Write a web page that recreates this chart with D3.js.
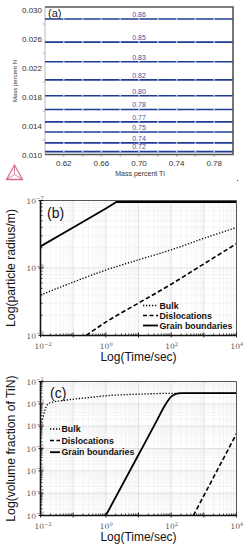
<!DOCTYPE html>
<html><head><meta charset="utf-8">
<script src="https://cdn.jsdelivr.net/npm/d3@7"></script>
<style>body{margin:0;background:#fff}svg{display:block}</style>
</head><body>
<svg id="c" width="249" height="550"></svg>
<script>
// ---------- Panel (a) data ----------
const isoLabels = ["0.86","0.85","0.83","0.82","0.80","0.78","0.77","0.75","0.74","0.72"];
const isoN = [0.0287,0.0255,0.0228,0.0203,0.0181,0.0162,0.0145,0.0131,0.0116,0.0104];
const isoTiRange = [0.60, 0.80];
const markerTi = [0.62,0.64,0.66,0.68,0.70,0.72,0.74,0.76,0.78];
const aXTicks = [0.62,0.66,0.70,0.74,0.78];
const aYTicks = [0.010,0.014,0.018,0.022,0.026,0.030];
const aYMinor = [0.012,0.016,0.020,0.024,0.028];

// ---------- Panel (b) data ----------
const bBulkT = [0.01,0.1,1,10,100,1000,10000];
const bBulkR = [3.98e-9,6.17e-9,9.33e-9,1.32e-8,1.86e-8,2.75e-8,3.98e-8];
const bDislT = [0.25,1,10,100,1000,10000];
const bDislR = [1.0e-9,1.58e-9,3.02e-9,5.75e-9,1.15e-8,2.29e-8];
const bGbT = [0.01,0.1,1,1.5,2.1,10000];
const bGbR = [2.09e-8,3.98e-8,7.6e-8,8.6e-8,9.5e-8,9.5e-8];
const bYTicks = [1e-9,1e-8,1e-7];
const bYExp = ["−9","−8","−7"];

// ---------- Panel (c) data ----------
const cBulkT = [0.01,0.0115,0.0135,0.016,0.02,0.05,0.3,1,10,100,10000];
const cBulkF = [1.1e-4,2.0e-4,5.0e-4,8.9e-4,1.12e-3,1.41e-3,1.9e-3,2.3e-3,2.7e-3,2.95e-3,3.0e-3];
const cDislT = [479,10000];
const cDislF = [1e-8,4.6e-5];
const cGbT = [1,10,31.6,70.8,100,141,200,10000];
const cGbF = [1e-8,5.25e-6,1.2e-4,1.07e-3,2.09e-3,2.8e-3,3.0e-3,3.0e-3];
const cYTicks = [1e-8,1e-7,1e-6,1e-5,1e-4,1e-3,1e-2];
const cYExp = ["−8","−7","−6","−5","−4","−3","−2"];

const timeTicks = [1e-2,1e0,1e2,1e4];
const timeExp = ["−2","0","2","4"];
const legendNames = ["Bulk","Dislocations","Grain boundaries"];
const legendDash = ["1.3,1.7","4,2.5",null];

const svg = d3.select("#c");

// ================= Panel (a) =================
(function(){
  const L=45,R=233,T=7,B=154.5;
  const x=d3.scaleLinear().domain([0.60,0.80]).range([L,R]);
  const y=d3.scaleLinear().domain([0.010,0.030]).range([154.5,9.5]);
  const g=svg.append("g");
  g.append("line").attr("x1",L).attr("x2",L).attr("y1",T).attr("y2",B).attr("stroke","#b8b8b8").attr("stroke-width",1);
  aYMinor.forEach(v=>g.append("line").attr("x1",L-2.5).attr("x2",L).attr("y1",y(v)).attr("y2",y(v)).attr("stroke","#b8b8b8"));
  aYTicks.forEach(v=>g.append("text").attr("x",L-3).attr("y",y(v)+3).attr("text-anchor","end")
      .attr("font-family","Liberation Sans, Arial, sans-serif").attr("font-size",8).attr("fill","#333").text(v.toFixed(3)));
  aXTicks.forEach(v=>g.append("text").attr("x",x(v)).attr("y",165.5).attr("text-anchor","middle")
      .attr("font-family","Liberation Sans, Arial, sans-serif").attr("font-size",8).attr("fill","#333").text(v.toFixed(2)));
  markerTi.forEach(v=>g.append("line").attr("x1",x(v)).attr("x2",x(v)).attr("y1",B).attr("y2",B+2).attr("stroke","#999"));
  const line=d3.line().x(d=>x(d[0])).y(d=>y(d[1]));
  isoN.forEach((n,i)=>{
    g.append("path").attr("d",line(isoTiRange.map(t=>[t,n]))).attr("stroke","#1f3b96").attr("stroke-width",1.6).attr("fill","none");
    markerTi.forEach(t=>g.append("circle").attr("cx",x(t)).attr("cy",y(n)).attr("r",0.85).attr("fill","#d4dbeb"));
    g.append("text").attr("x",x(0.70)).attr("y",y(n)-2.2).attr("text-anchor","middle")
      .attr("font-family","Liberation Sans, Arial, sans-serif").attr("font-size",7).attr("fill","#3a55a8").text(isoLabels[i]);
  });
  g.append("path").attr("d",`M${L},${T}H${R}V${B}H${L}`).attr("fill","none").attr("stroke","#555").attr("stroke-width",1.6);
  g.append("text").attr("x",48).attr("y",17).attr("font-family","Liberation Sans, Arial, sans-serif").attr("font-size",11).attr("fill","#222").text("(a)");
  g.append("text").attr("x",140).attr("y",175.5).attr("text-anchor","middle")
      .attr("font-family","Liberation Sans, Arial, sans-serif").attr("font-size",7).attr("fill","#333").text("Mass percent Ti");
  g.append("text").attr("transform","translate(17,81) rotate(-90)").attr("text-anchor","middle")
      .attr("font-family","Liberation Sans, Arial, sans-serif").attr("font-size",6).attr("fill","#333").text("Mass percent N");
  const lg=g.append("g").attr("stroke","#d8708c").attr("stroke-width",1.3).attr("fill","none");
  const A=[14.5,165],Bp=[6.5,179.5],C=[22.5,179.5],M=[14.5,174.5];
  lg.append("path").attr("d",`M${A}L${Bp}L${C}Z`);
  lg.append("path").attr("d",`M${A}L${M}M${Bp}L${M}M${C}L${M}`).attr("stroke-width",0.9);
  g.append("circle").attr("cx",237.5).attr("cy",180.5).attr("r",0.6).attr("fill","#333");
})();

// ================= generic log panel =================
function logPanel(o){
  const {L,R,T,B,yDom,yTicks,yExp,series,label,ylabel,legend,xTitleY,tickY}=o;
  const x=d3.scaleLog().domain([1e-2,1e4]).range([L,R]);
  const y=d3.scaleLog().domain(yDom).range([B,T]);
  const g=svg.append("g");
  const clipId="clip"+label;
  g.append("clipPath").attr("id",clipId).append("rect").attr("x",L).attr("y",T).attr("width",R-L).attr("height",B-T);
  const xMinor=[],yMinor=[];
  for(let e=-2;e<4;e++) for(let k=2;k<10;k++) xMinor.push(k*Math.pow(10,e));
  const ye0=Math.round(Math.log10(yDom[0])),ye1=Math.round(Math.log10(yDom[1]));
  for(let e=ye0;e<ye1;e++) for(let k=2;k<10;k++) yMinor.push(k*Math.pow(10,e));
  const xMajor=[];for(let e=-2;e<=4;e++) xMajor.push(Math.pow(10,e));
  xMinor.forEach(v=>g.append("line").attr("x1",x(v)).attr("x2",x(v)).attr("y1",T).attr("y2",B).attr("stroke","#efefef").attr("stroke-width",0.6));
  yMinor.forEach(v=>g.append("line").attr("y1",y(v)).attr("y2",y(v)).attr("x1",L).attr("x2",R).attr("stroke","#efefef").attr("stroke-width",0.6));
  xMajor.forEach(v=>g.append("line").attr("x1",x(v)).attr("x2",x(v)).attr("y1",T).attr("y2",B).attr("stroke","#d6d6d6").attr("stroke-width",0.7));
  yTicks.forEach(v=>g.append("line").attr("y1",y(v)).attr("y2",y(v)).attr("x1",L).attr("x2",R).attr("stroke","#d6d6d6").attr("stroke-width",0.7));
  const pg=g.append("g").attr("clip-path",`url(#${clipId})`);
  series.forEach(s=>{
    const ln=d3.line().x(d=>x(d[0])).y(d=>y(d[1])).curve(s.curve||d3.curveLinear);
    pg.append("path").attr("d",ln(s.t.map((t,i)=>[t,s.v[i]]))).attr("fill","none").attr("stroke","#000")
      .attr("stroke-width",s.w).attr("stroke-dasharray",s.dash);
  });
  g.append("path").attr("d",`M${L},${T}H${R}V${B}`).attr("fill","none").attr("stroke","#555").attr("stroke-width",1);
  g.append("line").attr("x1",L).attr("x2",R).attr("y1",B).attr("y2",B).attr("stroke","#111").attr("stroke-width",1.6);
  g.append("line").attr("x1",L).attr("x2",L).attr("y1",T).attr("y2",B).attr("stroke","#111").attr("stroke-width",1.6);
  xMinor.forEach(v=>g.append("line").attr("x1",x(v)).attr("x2",x(v)).attr("y1",B).attr("y2",B-2).attr("stroke","#111").attr("stroke-width",0.8));
  xMajor.forEach(v=>g.append("line").attr("x1",x(v)).attr("x2",x(v)).attr("y1",B+2).attr("y2",B-3).attr("stroke","#111").attr("stroke-width",0.9));
  yMinor.forEach(v=>g.append("line").attr("x1",L).attr("x2",L+2).attr("y1",y(v)).attr("y2",y(v)).attr("stroke","#111").attr("stroke-width",0.8));
  yTicks.forEach(v=>g.append("line").attr("x1",L-2).attr("x2",L+3).attr("y1",y(v)).attr("y2",y(v)).attr("stroke","#111").attr("stroke-width",0.9));
  const tf="DejaVu Serif, serif";
  yTicks.forEach((v,i)=>{
    const t=g.append("text").attr("x",L-14).attr("y",y(v)+3).attr("font-family",tf).attr("font-size",7.5).attr("fill","#555").attr("text-anchor","start");
    t.append("tspan").text("10");
    t.append("tspan").attr("dy",-3.5).attr("font-size",5.2).text(yExp[i]);
  });
  timeTicks.forEach((v,i)=>{
    const t=g.append("text").attr("x",x(v)-6).attr("y",tickY).attr("font-family",tf).attr("font-size",7.5).attr("fill","#555");
    t.append("tspan").text("10");
    t.append("tspan").attr("dy",-3.5).attr("font-size",5.2).text(timeExp[i]);
  });
  const sf="Liberation Sans, Arial, sans-serif";
  g.append("text").attr("x",(L+R)/2).attr("y",xTitleY).attr("text-anchor","middle").attr("font-family",sf).attr("font-size",12).attr("fill","#111").text("Log(Time/sec)");
  g.append("text").attr("transform",`translate(15,${(T+B)/2}) rotate(-90)`).attr("text-anchor","middle").attr("font-family",sf).attr("font-size",12.2).attr("fill","#111").text(ylabel);
  g.append("text").attr("x",o.panX).attr("y",o.panY).attr("font-family",sf).attr("font-size",14).attr("fill","#111").text(`(${label})`);
  legendNames.forEach((nm,i)=>{
    const yy=legend.y+i*legend.dy;
    g.append("line").attr("x1",legend.x).attr("x2",legend.x+legend.len).attr("y1",yy).attr("y2",yy).attr("stroke","#000")
      .attr("stroke-width",i==2?1.8:1.5).attr("stroke-dasharray",legendDash[i]);
    g.append("text").attr("x",legend.x+legend.len+1.5).attr("y",yy+3.2).attr("font-family",sf).attr("font-weight","bold")
      .attr("font-size",8.8).attr("fill","#111").text(nm);
  });
}

logPanel({L:40.5,R:236.5,T:200.5,B:335.5,yDom:[1e-9,1e-7],yTicks:bYTicks,yExp:bYExp,label:"b",
  ylabel:"Log(particle radius/m)",xTitleY:361,tickY:349,panX:47,panY:218,
  legend:{x:143,y:305.5,dy:10,len:15},
  series:[
    {t:bBulkT,v:bBulkR,dash:"1.3,1.7",w:1.3,curve:d3.curveMonotoneX},
    {t:bDislT,v:bDislR,dash:"4.5,2.5",w:1.6,curve:d3.curveMonotoneX},
    {t:bGbT,v:bGbR,dash:null,w:1.8}
  ]});
logPanel({L:40.5,R:236.5,T:381.5,B:515.5,yDom:[1e-8,1e-2],yTicks:cYTicks,yExp:cYExp,label:"c",
  ylabel:"Log(volume fraction of TiN)",xTitleY:541,tickY:529,panX:50,panY:398,
  legend:{x:50,y:429,dy:11.6,len:10},
  series:[
    {t:cBulkT,v:cBulkF,dash:"1.3,1.7",w:1.3,curve:d3.curveMonotoneX},
    {t:cDislT,v:cDislF,dash:"4.5,2.5",w:1.6},
    {t:cGbT,v:cGbF,dash:null,w:1.8,curve:d3.curveMonotoneX}
  ]});
</script>
</body></html>
